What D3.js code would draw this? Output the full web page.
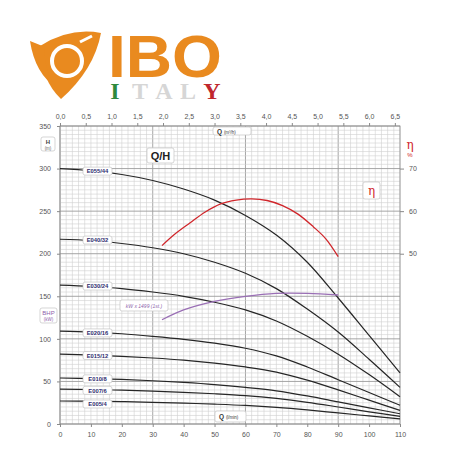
<!DOCTYPE html>
<html><head><meta charset="utf-8">
<script src="https://cdn.jsdelivr.net/npm/d3@7"></script>
<style>body{margin:0;background:#fff}svg{display:block}</style>
</head><body>
<svg id="c" width="456" height="456"></svg>
<script>
// ---- data ----
const qValues = [0,10,20,30,40,50,60,70,80,90,100,110]; // l/min
const curveNames = ["E055/44","E040/32","E030/24","E020/16","E015/12","E010/8","E007/6","E005/4"];
const hE055 = [300,297.5,293,286,276,263,245,222,190,148,104,60];
const hE040 = [217,215.5,212,207,200,190,177,159,135,108,76,43];
const hE030 = [163,161.5,159,155,150,143,134,121,103,82,58,32];
const hE020 = [109,108,106,103,99.5,95,89,80,67,52,37,22];
const hE015 = [82,81,79.5,77.5,75,71.5,67,61,51.5,40,28,16];
const hE010 = [54,53.3,52.3,50.8,48.8,46.3,43,39,33,26,19,12];
const hE007 = [41,40.5,39.7,38.6,37.2,35.5,33.3,30,25.5,20,14.3,9];
const hE005 = [27,26.8,26.3,25.5,24.5,23.3,21.8,19.6,16.6,13,9.5,6];
const labelH = [297,216,162,107,80.5,53,39.5,23.5];
const etaQ = [33,37,42,47,52,57,62,67,72,77,82,86,90];
const etaVals = [51.9,54.5,57.2,59.8,61.7,62.6,62.9,62.5,61.3,59.3,56.3,53.5,49.3];
const bhpQ = [33,40,50,60,70,80,90];
const bhpVals = [122.4,134,144,150,153.5,153.5,151.5];
const bottomTicks = [0,10,20,30,40,50,60,70,80,90,100,110];
const leftTicks = [0,50,100,150,200,250,300,350];
const topTicks = [0,0.5,1,1.5,2,2.5,3,3.5,4,4.5,5,5.5,6,6.5];
const etaTicks = [50,60,70];

const svg = d3.select("#c");
const x = d3.scaleLinear().domain([0,110]).range([60,400]);
const y = d3.scaleLinear().domain([0,350]).range([424,126]);
const xTop = d3.scaleLinear().domain([0,6.6]).range([60,400]);
const yEta = d3.scaleLinear().domain([10,80]).range([424,126]);
const F = "'Liberation Sans', Arial, sans-serif";

// ---- logo ----
const orange = "#e98a1f";
const logo = svg.append("g");
logo.append("path").attr("d","M40,46 Q70,27 101,33 Q94,70 61,99 Q41,80 40,46 Z").attr("fill",orange);
logo.append("path").attr("d","M30,41 L45,47 Q43,70 57,88 Q35,74 30,41 Z").attr("fill",orange);
logo.append("circle").attr("cx",67).attr("cy",61).attr("r",15).attr("fill","none").attr("stroke","#fff").attr("stroke-width",4);
logo.append("circle").attr("cx",67).attr("cy",61).attr("r",11).attr("fill",orange);
logo.append("path").attr("d","M80,42 L92,36").attr("stroke","#fff").attr("stroke-width",3);
logo.append("text").attr("x",108).attr("y",77).attr("font-family",F).attr("font-weight","bold")
  .attr("font-size",60).attr("fill",orange).attr("textLength",114).attr("lengthAdjust","spacingAndGlyphs").text("IBO");
const italy = [["I","#2f8a3c",115],["T","#d6d6d6",140],["A","#d6d6d6",164],["L","#d6d6d6",188],["Y","#c0272d",212]];
italy.forEach(d=>logo.append("text").attr("x",d[2]).attr("y",99).attr("text-anchor","middle")
  .attr("font-family","'Liberation Serif', serif").attr("font-weight","bold").attr("font-size",24).attr("fill",d[1]).text(d[0]));

// ---- grid ----
const g = svg.append("g");
for (let q=0; q<=110; q+=2) {
  const major = q%30===0;
  g.append("line").attr("x1",x(q)).attr("x2",x(q)).attr("y1",y(350)).attr("y2",y(0))
    .attr("stroke", major?"#9c9c9c":"#d0d0d0").attr("stroke-width", major?0.9:0.6);
}
for (let h=0; h<=350; h+=5) {
  const major = h%50===0;
  g.append("line").attr("x1",x(0)).attr("x2",x(110)).attr("y1",y(h)).attr("y2",y(h))
    .attr("stroke", major?"#9c9c9c":"#d0d0d0").attr("stroke-width", major?0.9:0.6);
}
g.append("rect").attr("x",x(0)).attr("y",y(350)).attr("width",x(110)-x(0)).attr("height",y(0)-y(350))
  .attr("fill","none").attr("stroke","#8a8a8a").attr("stroke-width",0.8);

// ---- axes ----
const axB = svg.append("g").attr("transform",`translate(0,${y(0)})`)
  .call(d3.axisBottom(x).tickValues(bottomTicks).tickSize(3).tickPadding(5));
const axL = svg.append("g").attr("transform",`translate(${x(0)},0)`)
  .call(d3.axisLeft(y).tickValues(leftTicks).tickSize(3).tickPadding(6));
const axT = svg.append("g").attr("transform",`translate(0,${y(350)})`)
  .call(d3.axisTop(xTop).tickValues(topTicks).tickFormat(d=>d3.format(".1f")(d).replace(".",",")).tickSize(3).tickPadding(4));
const axR = svg.append("g").attr("transform",`translate(${x(110)},0)`)
  .call(d3.axisRight(yEta).tickValues(etaTicks).tickSize(4).tickPadding(5));
[axB,axL,axT,axR].forEach(a=>{
  a.select(".domain").remove();
  a.selectAll("line").attr("stroke","#8a8a8a");
  a.selectAll("text").attr("font-family",F).attr("font-size",7).attr("fill","#555");
});

// ---- curves ----
const line = d3.line().x(d=>x(d[0])).y(d=>y(d[1])).curve(d3.curveCatmullRom.alpha(0.5));
const allH = [hE055,hE040,hE030,hE020,hE015,hE010,hE007,hE005];
allH.forEach(arr=>{
  svg.append("path").datum(qValues.map((q,i)=>[q,arr[i]])).attr("d",line)
    .attr("fill","none").attr("stroke","#262626").attr("stroke-width",1.2);
});
const etaLine = d3.line().x(d=>x(d[0])).y(d=>yEta(d[1])).curve(d3.curveCatmullRom.alpha(0.5));
svg.append("path").datum(etaQ.map((q,i)=>[q,etaVals[i]])).attr("d",etaLine)
  .attr("fill","none").attr("stroke","#d0262b").attr("stroke-width",1.3);
svg.append("path").datum(bhpQ.map((q,i)=>[q,bhpVals[i]])).attr("d",line)
  .attr("fill","none").attr("stroke","#9a6fb5").attr("stroke-width",1.3);

// ---- boxes ----
function box(x0,y0,w,h){
  return svg.append("rect").attr("x",x0).attr("y",y0).attr("width",w).attr("height",h).attr("rx",2)
    .attr("fill","#fff").attr("stroke","#c4c4c4").attr("stroke-width",0.7);
}
curveNames.forEach((n,i)=>{
  const cy = y(labelH[i]);
  box(83,cy-4,29,8);
  svg.append("text").attr("x",97.5).attr("y",cy+2.2).attr("text-anchor","middle").attr("font-family",F)
    .attr("font-size",5.8).attr("font-weight","bold").attr("fill","#2e2c6e").text(n);
});
// H (m)
box(41,137,14,14);
svg.append("text").attr("x",48).attr("y",143.5).attr("text-anchor","middle").attr("font-family",F).attr("font-size",6).attr("font-weight","bold").attr("fill","#444").text("H");
svg.append("text").attr("x",48).attr("y",149.5).attr("text-anchor","middle").attr("font-family",F).attr("font-size",4.5).attr("fill","#666").text("(m)");
// BHP (kW)
box(40,308,17,15);
svg.append("text").attr("x",48.5).attr("y",315).attr("text-anchor","middle").attr("font-family",F).attr("font-size",6).attr("fill","#8e5fab").text("BHP");
svg.append("text").attr("x",48.5).attr("y",321).attr("text-anchor","middle").attr("font-family",F).attr("font-size",4.5).attr("fill","#8e5fab").text("(kW)");
// Q/H
box(147,148,27,15);
svg.append("text").attr("x",160.5).attr("y",159.5).attr("text-anchor","middle").attr("font-family",F).attr("font-size",11).attr("font-weight","bold").attr("fill","#222").text("Q/H");
// Q (m3/h)
box(213,127,38,8);
const tq = svg.append("text").attr("x",217).attr("y",133.5).attr("font-family",F).attr("fill","#333");
tq.append("tspan").attr("font-size",6.5).attr("font-weight","bold").text("Q ");
tq.append("tspan").attr("font-size",4.5).text("(m³/h)");
// Q (l/min)
box(215,411,31,11);
const tl = svg.append("text").attr("x",219).attr("y",419).attr("font-family",F).attr("fill","#333");
tl.append("tspan").attr("font-size",6.5).attr("font-weight","bold").text("Q ");
tl.append("tspan").attr("font-size",4.5).text("(l/min)");
// eta box
box(363,182,17,17);
svg.append("text").attr("x",371.5).attr("y",194.5).attr("text-anchor","middle").attr("font-family","'DejaVu Serif', serif").attr("font-size",12).attr("fill","#d0262b").text("η");
// eta % axis label
svg.append("text").attr("x",410).attr("y",149).attr("text-anchor","middle").attr("font-family","'DejaVu Serif', serif").attr("font-size",12).attr("fill","#d0262b").text("η");
svg.append("text").attr("x",410).attr("y",157).attr("text-anchor","middle").attr("font-family",F).attr("font-size",6).attr("fill","#d0262b").text("%");
// kW label
box(120,300,48,11);
svg.append("text").attr("x",144).attr("y",307.5).attr("text-anchor","middle").attr("font-family",F).attr("font-size",5).attr("font-style","italic").attr("fill","#8e5fab").text("kW x 1499 (1st.)");
</script>
</body></html>
